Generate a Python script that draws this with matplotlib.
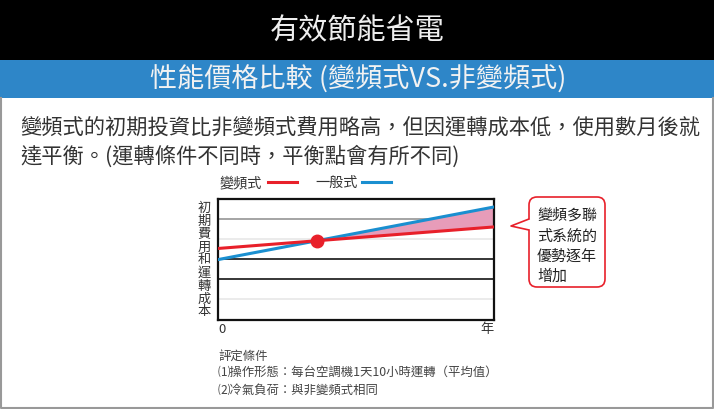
import numpy as np
import matplotlib.pyplot as plt
from matplotlib.patches import FancyBboxPatch, Polygon, Rectangle

plt.rcParams['font.family'] = ['Noto Sans CJK TC', 'DejaVu Sans']

# data
years = [0, 1]
inverter_cost = [0.587, 0.765]    # 變頻式
normal_cost = [0.495, 0.93]       # 一般式
grid_levels = [1/6, 2/6, 3/6, 4/6, 5/6]
grid_colors = ['#e6e6e6', '#000000', '#000000', '#e6e6e6', '#8c8c8c']

title = '有效節能省電'
subtitle = '性能價格比較 (變頻式VS.非變頻式)'
body = ['變頻式的初期投資比非變頻式費用略高，但因運轉成本低，使用數月後就',
        '達平衡。(運轉條件不同時，平衡點會有所不同)']
ylabel = '初期費用和運轉成本'
callout = ['變頻多聯', '式系統的', '優勢逐年', '增加']
notes = ['評定條件', '⑴操作形態：每台空調機1天10小時運轉（平均值）', '⑵冷氣負荷：與非變頻式相同']

RED = '#e8202a'
BLUE = '#1a8fd0'
W, H = 714, 410

fig = plt.figure(figsize=(W / 100, H / 100), dpi=100)

# overlay in pixel coords
bg = fig.add_axes([0, 0, 1, 1])
bg.set_xlim(0, W)
bg.set_ylim(H, 0)
bg.axis('off')

bg.add_patch(Rectangle((0, 0), W, 61, color='black', lw=0))
bg.add_patch(Rectangle((0, 61), W, 38, color='#2e86c8', lw=0))
bg.text(357, 31, title, color='#eeeeee', fontsize=21, ha='center', va='center')
bg.text(358, 80, subtitle, color='#f2f2f2', fontsize=19.5, ha='center', va='center',
        fontweight='medium')
# frame
bg.plot([1, 1, 713, 713], [99, 409, 409, 99], color='#999999', lw=1.5)

for i, line in enumerate(body):
    bg.text(20, 129 + 28 * i, line, color='#333333', fontsize=15.3, ha='left', va='center')

# legend
bg.text(220, 183, '變頻式', fontsize=10.2, color='#333333', va='center')
bg.plot([268, 297], [183, 183], color=RED, lw=2.2)
bg.text(315, 183, '一般式', fontsize=10.2, color='#333333', va='center')
bg.plot([362, 391], [183, 183], color=BLUE, lw=2.2)

# vertical label
for i, ch in enumerate(ylabel):
    bg.text(204, 208 + 13 * i, ch, fontsize=9.5, color='#333333', ha='center', va='center')

bg.text(222, 330, '0', fontsize=9.5, color='#333333', ha='center', va='center')
bg.text(487, 330, '年', fontsize=9.5, color='#333333', ha='center', va='center')

# callout
bg.add_patch(FancyBboxPatch((529, 198), 76, 90, boxstyle='round,pad=0,rounding_size=8',
                            fc='white', ec=RED, lw=1.2))
tip = (511, 227)
b1, b2 = (529, 220), (529, 231)
bg.add_patch(Polygon([tip, (530, 219.5), (530, 231.5)], closed=True, fc='white', ec='none'))
bg.plot([b1[0], tip[0], b2[0]], [b1[1], tip[1], b2[1]], color=RED, lw=1.2)
for i, line in enumerate(callout):
    bg.text(537, 216 + 20.3 * i, line, fontsize=10.8, color='#222222', ha='left', va='center')

for i, line in enumerate(notes):
    bg.text(218, 356 + 17 * i, line, fontsize=8.9, color='#444444', ha='left', va='center')

# chart
ax = fig.add_axes([218 / W, 1 - 320.5 / H, 276 / W, 121 / H])
ax.set_xlim(0, 1)
ax.set_ylim(0, 1)
for lvl, c in zip(grid_levels, grid_colors):
    ax.axhline(lvl, color=c, lw=1.1, zorder=1)

x = np.array(years, dtype=float)
r = np.array(inverter_cost)
b = np.array(normal_cost)
xi = (r[0] - b[0]) / ((b[1] - b[0]) - (r[1] - r[0]))
yi = r[0] + (r[1] - r[0]) * xi
ax.fill_between([xi, 1], [yi, r[1]], [yi, b[1]], color='#e79cb9', lw=0, zorder=2)
ax.plot(x, b, color=BLUE, lw=2.2, zorder=3)
ax.plot(x, r, color=RED, lw=2.2, zorder=4)
ax.plot([xi], [yi], 'o', color=RED, ms=9, zorder=5)
ax.set_xticks([])
ax.set_yticks([])
for s in ax.spines.values():
    s.set_linewidth(1.6)
    s.set_color('#111111')

fig.savefig('out.png', dpi=100)
